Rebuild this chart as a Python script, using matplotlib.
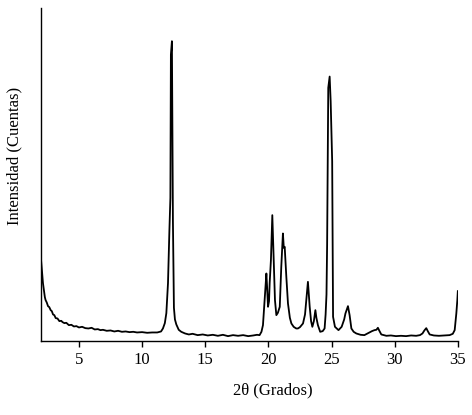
import numpy as np
import matplotlib.pyplot as plt

plt.rcParams['font.family'] = ['Liberation Serif', 'DejaVu Serif']

two_theta = [2.0, 2.05, 2.1, 2.15, 2.22, 2.3, 2.36, 2.45, 2.55, 2.65, 2.76, 2.85, 2.95, 3.05,
             3.16, 3.3, 3.45, 3.6, 3.7, 3.85, 4.0, 4.2, 4.4, 4.6, 4.8, 5.0, 5.25, 5.5, 5.75,
             6.0, 6.25, 6.5, 6.7, 6.9, 7.2, 7.5, 7.8, 8.1, 8.4, 8.7, 9.0, 9.3, 9.6, 10.0,
             10.4, 10.8, 11.2, 11.5,
             11.65, 11.8, 11.92, 12.05, 12.16, 12.24, 12.28, 12.36, 12.44, 12.52, 12.6, 12.71,
             12.9, 13.1, 13.4,
             13.7, 14.0, 14.4, 14.8, 15.2, 15.6, 16.0, 16.4, 16.8, 17.2, 17.6, 18.0, 18.4,
             18.8, 19.1, 19.3, 19.45, 19.57, 19.7, 19.84, 19.9, 19.97, 20.05, 20.1, 20.2,
             20.31, 20.42, 20.52, 20.63, 20.75, 20.9, 21.02, 21.15, 21.22, 21.29, 21.42,
             21.55, 21.7, 21.82, 22.0, 22.2, 22.34, 22.5, 22.74, 22.9, 23.0, 23.13, 23.2,
             23.27, 23.38, 23.48, 23.6, 23.72, 23.8, 23.92, 24.1, 24.3, 24.45, 24.53, 24.6,
             24.65, 24.74, 24.85, 24.93, 25.05, 25.12, 25.27, 25.55, 25.8, 26.0, 26.1, 26.3,
             26.43, 26.57, 26.75, 26.96, 27.3, 27.6, 27.8, 28.0, 28.2, 28.4, 28.55, 28.67,
             28.8, 28.94, 29.34, 29.7, 30.1, 30.5, 30.9, 31.3, 31.7, 32.0, 32.2, 32.35, 32.5,
             32.62, 32.77, 33.1, 33.5, 33.9, 34.35, 34.6, 34.75, 34.88, 34.96, 35.0]

# intensity (arbitrary counts)
intensity = [24.3, 22.0, 19.5, 17.4, 15.5, 13.2, 12.3, 11.6, 10.5, 10.2, 9.3, 9.0, 8.0, 7.8,
             6.9, 6.8, 6.0, 6.1, 5.7, 5.4, 5.5, 4.8, 4.9, 4.4, 4.5, 4.1, 4.3, 3.9, 3.8,
             4.0, 3.5, 3.6, 3.3, 3.4, 3.1, 3.2, 2.9, 3.1, 2.8, 2.9, 2.7, 2.8, 2.6, 2.7,
             2.5, 2.6, 2.6, 2.9,
             3.8, 5.4, 8.4, 17.4, 33.0, 43.0, 86.0, 90.0, 36.0, 10.0, 6.5, 5.0,
             3.4, 2.8, 2.3,
             2.0, 2.2, 1.8, 2.0, 1.7, 1.9, 1.6, 1.9, 1.5, 1.8, 1.6, 1.8, 1.5,
             1.7, 1.9, 1.8, 2.8, 4.8, 12.3, 20.3, 16.0, 10.3, 12.0, 17.4, 24.3,
             37.8, 24.3, 12.3, 7.8, 8.5, 10.3, 22.3, 32.3, 28.0, 28.3, 19.3,
             11.3, 7.0, 5.3, 4.3, 3.8, 3.8, 4.2, 5.3, 8.0, 12.3, 17.8, 14.0,
             10.3, 6.0, 4.3, 6.0, 9.3, 7.0, 4.8, 2.8, 3.0, 3.8, 8.0, 14.0,
             29.0, 76.0, 79.4, 72.0, 54.0, 7.3, 4.3, 3.3, 4.3, 6.5, 8.3, 10.5,
             7.8, 3.8, 2.8, 2.3, 1.9, 1.8, 2.2, 2.6, 3.0, 3.3, 3.4, 4.0,
             3.0, 2.0, 1.6, 1.7, 1.5, 1.6, 1.5, 1.7, 1.6, 1.8, 2.3, 3.2, 3.9,
             3.0, 2.0, 1.7, 1.6, 1.7, 1.8, 2.2, 3.3, 8.3, 12.3, 15.0]

x_ticks = [5, 10, 15, 20, 25, 30, 35]

fig = plt.figure(figsize=(4.72, 4.15), dpi=100)
ax = fig.add_axes([0.087, 0.178, 0.883, 0.803])

ax.plot(two_theta, intensity, color='black', linewidth=1.3)

ax.set_xlim(2, 35)
ax.set_ylim(0, 100)
ax.set_xticks(x_ticks)
ax.set_yticks([])
ax.tick_params(axis='x', direction='out', length=4, width=1, pad=4, labelsize=12)

ax.spines['top'].set_visible(False)
ax.spines['right'].set_visible(False)
ax.spines['left'].set_linewidth(1)
ax.spines['bottom'].set_linewidth(1)

ax.set_xlabel('2θ (Grados)', fontsize=12)
ax.xaxis.set_label_coords(0.556, -0.125)
ax.set_ylabel('Intensidad (Cuentas)', fontsize=12)
ax.yaxis.set_label_coords(-0.045, 0.556)

plt.savefig('out.png', dpi=100)
